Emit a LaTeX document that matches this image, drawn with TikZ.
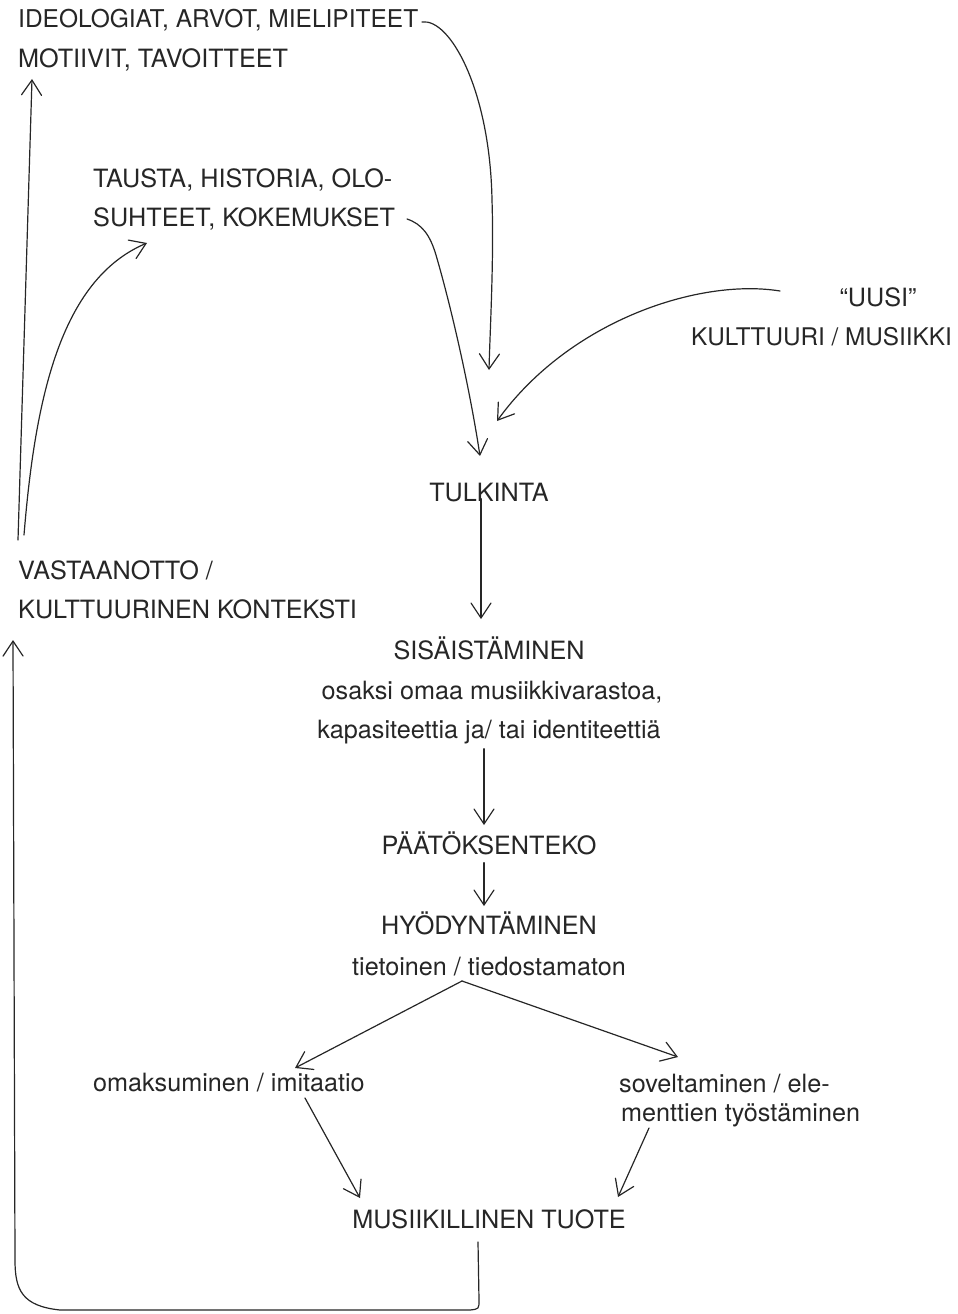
\documentclass[tikz,border=0pt]{standalone}
\usepackage{fontspec}
\setmainfont{TeX Gyre Heros}
\usetikzlibrary{arrows.meta,calc}
\begin{document}
\begin{tikzpicture}[x=1pt,y=-1pt,
  lbl/.style={inner sep=0pt, font=\fontsize{25.2}{29}\selectfont, text=black!85},
  conn/.style={line width=1.2pt, draw=black!85, line cap=round, line join=round},
  arr/.style={conn, -{Straight Barb[length=15pt,width=20pt,line cap=round]}}]
\useasboundingbox (0,0) rectangle (958,1314);
% labels
\node[lbl,anchor=base west,font=\fontsize{24.5}{29}\selectfont] (ideo) at (18,28) {IDEOLOGIAT, ARVOT, MIELIPITEET};
\node[lbl,anchor=base west] (moti) at (18,67) {MOTIIVIT, TAVOITTEET};
\node[lbl,anchor=base west] (taus) at (93,187) {TAUSTA, HISTORIA, OLO-};
\node[lbl,anchor=base west] (suht) at (93,226) {SUHTEET, KOKEMUKSET};
\node[lbl,anchor=base] (uusi) at (878,306) {“UUSI”};
\node[lbl,anchor=base east,font=\fontsize{24.3}{29}\selectfont] (kult) at (952,345) {KULTTUURI / MUSIIKKI};
\node[lbl,anchor=base] (tulk) at (489,501) {TULKINTA};
\node[lbl,anchor=base west] (vast) at (18,579) {VASTAANOTTO /};
\node[lbl,anchor=base west] (konte) at (18,618) {KULTTUURINEN KONTEKSTI};
\node[lbl,anchor=base] (sisa) at (489,659) {SISÄISTÄMINEN};
\node[lbl,anchor=base] (osak) at (492,699) {osaksi omaa musiikkivarastoa,};
\node[lbl,anchor=base] (kapa) at (489,738) {kapasiteettia ja/ tai identiteettiä};
\node[lbl,anchor=base] (paat) at (489,854) {PÄÄTÖKSENTEKO};
\node[lbl,anchor=base] (hyod) at (489,934) {HYÖDYNTÄMINEN};
\node[lbl,anchor=base] (tiet) at (489,975) {tietoinen / tiedostamaton};
\node[lbl,anchor=base west] (omak) at (93,1091) {omaksuminen / imitaatio};
\node[lbl,anchor=base west] (sove) at (619,1092) {soveltaminen / ele-};
\node[lbl,anchor=base west] (ment) at (621,1121) {menttien työstäminen};
\node[lbl,anchor=base] (tuot) at (489,1228) {MUSIIKILLINEN TUOTE};
% connector end points
\coordinate (ideoE) at (422,22);
\coordinate (c1) at (489,370);
\coordinate (suhtE) at (407,219);
\coordinate (c2) at (480,456);
\coordinate (uusiW) at (780,291);
\coordinate (c3) at (497,421);
\coordinate (vastA) at (18,540);
\coordinate (vastB) at (24,535);
\coordinate (motiS) at (32,79);
\coordinate (tausS) at (147,243);
\coordinate (fork) at (462,981);
\coordinate (omakT) at (295,1068);
\coordinate (soveT) at (678,1057);
\coordinate (omakS) at (305,1098);
\coordinate (mentS) at (649,1128);
\coordinate (tuotL) at (360,1198);
\coordinate (tuotR) at (618,1197);
\coordinate (tuotS) at (478,1242);
\coordinate (konteS) at (13,640);
% connectors
\draw[arr] (ideoE) .. controls (450,18) and (490,90) .. (492,200)
  .. controls (494,260) and (490,330) .. (c1);
\draw[arr] (suhtE) .. controls (422,224) and (430,235) .. (436,255)
  .. controls (452,310) and (470,390) .. (c2);
\draw[arr] (uusiW) .. controls (700,278) and (570,320) .. (c3);
\draw[arr] ($(tulk.south)+(-8,-3)$) -- ($(sisa.north)+(-8,-17)$);
\draw[arr] ($(kapa.south)+(-5,5)$) -- ($(paat.north)+(-5,-6)$);
\draw[arr] ($(paat.south)+(-5,8)$) -- ($(hyod.north)+(-5,-5)$);
\draw[arr] (fork) -- (omakT);
\draw[arr] (fork) -- (soveT);
\draw[arr] (omakS) -- (tuotL);
\draw[arr] (mentS) -- (tuotR);
\draw[arr] (vastA) -- (motiS);
\draw[arr] (vastB) .. controls (35,400) and (60,280) .. (tausS);
\draw[arr] (tuotS) -- (479,1300) .. controls (479,1309) .. (470,1310) -- (60,1310)
  .. controls (22,1306) and (15,1290) .. (15,1260) -- (konteS);
\end{tikzpicture}
\end{document}
